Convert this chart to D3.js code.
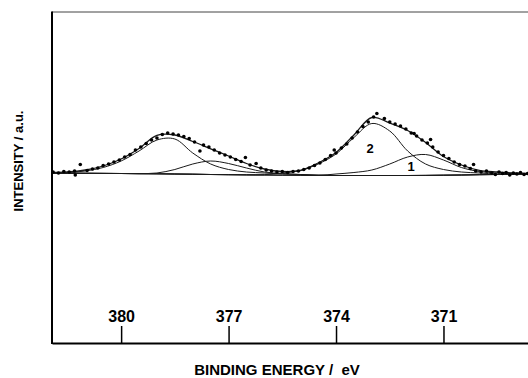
<!DOCTYPE html>
<html>
<head>
<meta charset="utf-8">
<script src="https://cdn.jsdelivr.net/npm/d3@7"></script>
<style>
  body { margin: 0; background: #fff; }
  svg { display: block; font-family: "Liberation Sans", Arial, sans-serif; }
</style>
</head>
<body>
<svg id="chart" width="528" height="378"></svg>
<script>
// binding energy grid used for the fitted curves (eV)
const grid = [382, 381.5, 381, 380.5, 380, 379.5, 379, 378.5, 378, 377.5, 377, 376.5, 376, 375.5,
  375, 374.5, 374, 373.5, 373, 372.5, 372, 371.5, 371, 370.5, 370, 369.5, 369, 368.5];

// fitted envelope
const envelope = [170.5, 171, 173, 177, 184, 194.5, 207.7, 208, 201.5, 194.2, 187, 179.5, 174, 171.5,
  172.5, 180, 190.5, 208, 225.5, 220, 212.5, 200.5, 186.5, 178, 172.7, 171, 170, 169.5];
// background
const background = [170, 169.8, 169.7, 169.6, 169.5, 169.3, 169.2, 169, 168.8, 168.5, 168.3, 168.1, 168, 167.8,
  167.7, 167.6, 167.5, 167.5, 167.5, 167.5, 167.5, 167.6, 167.8, 168, 168.3, 168.5, 168.8, 169];
// left doublet components
const compA = [170, 170.5, 172, 175.5, 182, 192, 203, 204, 190, 179, 173.5, 171, 170, 169,
  168.5, 167.8, 167.5, 167.5, 167.5, 167.5, 167.5, 167.6, 167.8, 168, 168.3, 168.5, 168.8, 169];
const compB = [170, 169.8, 169.7, 169.6, 169.5, 169.4, 170, 173.5, 179, 182, 179.5, 175, 171, 169.5,
  168.5, 167.8, 167.5, 167.5, 167.5, 167.5, 167.5, 167.6, 167.8, 168, 168.3, 168.5, 168.8, 169];
// right doublet components ("2" and "1")
const comp2 = [170, 169.8, 169.7, 169.6, 169.5, 169.3, 169.2, 169, 168.8, 168.5, 168.3, 168.2, 168.3, 170,
  172.5, 179, 189, 205.5, 219.5, 212, 192, 179, 173.5, 171, 170, 169, 168.8, 169];
const comp1 = [170, 169.8, 169.7, 169.6, 169.5, 169.3, 169.2, 169, 168.8, 168.5, 168.3, 168.1, 168, 167.8,
  167.7, 167.6, 169, 170.5, 173, 179, 186, 188.5, 183, 175.5, 171.5, 170, 169.5, 169];

// measured points
const pointBE = [381.9, 381.75, 381.6, 381.45, 381.3, 381.28, 381.14, 380.95, 380.8, 380.65, 380.5, 380.35,
  380.2, 380.05, 379.9, 379.75, 379.6, 379.45, 379.3, 379.15, 379.0, 378.85, 378.7, 378.55, 378.4, 378.25,
  378.1, 377.95, 377.8, 377.7, 377.55, 377.4, 377.25, 377.1, 376.95, 376.8, 376.65, 376.53, 376.4, 376.23,
  376.1, 375.95, 375.8, 375.65, 375.5, 375.35, 375.2, 375.05, 374.9, 374.75, 374.6, 374.45, 374.3, 374.15,
  374.05, 374.0, 373.85, 373.7, 373.55, 373.4, 373.25, 373.1, 372.95, 372.86, 372.65, 372.5, 372.35, 372.2,
  372.05, 371.9, 371.82, 371.75, 371.6, 371.45, 371.36, 371.3, 371.15, 371.0, 370.85, 370.7, 370.55, 370.4,
  370.25, 370.16, 370.1, 369.95, 369.8, 369.65, 369.55, 369.45, 369.35, 369.25, 369.15, 369.05, 368.95,
  368.85, 368.75, 368.65];
const pointI = [171, 170, 171.5, 171, 172, 168, 178.5, 172.5, 174, 175, 177.5, 179,
  181, 183, 186, 188.5, 193, 196, 199.5, 203, 205, 208.5, 210, 209, 208, 206.5,
  204.5, 201, 192, 198, 196, 193, 190, 188, 186, 183.5, 181.5, 185.5, 178, 179.5,
  175, 173, 172, 171, 171.5, 170.5, 171.5, 172, 173.5, 175, 177.5, 180, 183.5, 187.5,
  193, 190, 195, 199, 205, 211, 216.5, 221, 226, 229.5, 224.5, 221, 219, 217,
  214, 210, 209.5, 207, 203, 200, 203.5, 196, 191, 187.5, 184.5, 181, 178.5, 177,
  174.5, 178.5, 172, 171, 172, 170, 168.5, 171, 169.5, 170.5, 168, 170, 169,
  170.5, 168.5, 169.5];

const tickValues = [380, 377, 374, 371];
const peakLabels = [{ text: "2", be: 373.05, i: 193 }, { text: "1", be: 371.9, i: 175 }];

const plotL = 52, plotR = 528, plotT = 12, plotB = 343;

const svg = d3.select("#chart");

const x = d3.scaleLinear().domain([381.93, 368.64]).range([plotL, plotR]);
const y = d3.scaleLinear().domain([0, 331]).range([plotB, plotT]);

svg.append("clipPath").attr("id", "plot")
  .append("rect")
  .attr("x", plotL).attr("y", plotT)
  .attr("width", plotR - plotL).attr("height", plotB - plotT);

const line = d3.line()
  .x(d => x(d[0]))
  .y(d => y(d[1]))
  .curve(d3.curveCatmullRom);

const curves = [background, compA, compB, comp2, comp1, envelope];
const g = svg.append("g").attr("clip-path", "url(#plot)");

g.selectAll("path.curve")
  .data(curves)
  .join("path")
  .attr("class", "curve")
  .attr("fill", "none")
  .attr("stroke", "#1a1a1a")
  .attr("stroke-width", (d, i) => i === curves.length - 1 ? 1.3 : 1)
  .attr("d", d => line(grid.map((be, i) => [be, d[i]])));

g.selectAll("circle.pt")
  .data(pointBE.map((be, i) => [be, pointI[i]]))
  .join("circle")
  .attr("class", "pt")
  .attr("cx", d => x(d[0]))
  .attr("cy", d => y(d[1]))
  .attr("r", 1.8)
  .attr("fill", "#000");

// frame: top line
svg.append("line")
  .attr("x1", plotL).attr("x2", plotR)
  .attr("y1", plotT).attr("y2", plotT)
  .attr("stroke", "#444").attr("stroke-width", 1);

// left axis
svg.append("line")
  .attr("x1", plotL).attr("x2", plotL)
  .attr("y1", plotT - 0.5).attr("y2", plotB + 1)
  .attr("stroke", "#000").attr("stroke-width", 2);

// bottom axis, ticks pointing up into the plot
const xAxis = svg.append("g")
  .attr("transform", `translate(0,${plotB})`)
  .call(d3.axisTop(x).tickValues(tickValues).tickSize(17).tickSizeOuter(0).tickPadding(4));
xAxis.select(".domain").attr("stroke-width", 2);
xAxis.selectAll(".tick line").attr("stroke-width", 1.5);
xAxis.selectAll(".tick text")
  .attr("font-size", 16)
  .attr("font-weight", "bold")
  .attr("font-family", "Liberation Sans, Arial, sans-serif")
  .attr("fill", "#000");

// component labels
svg.selectAll("text.peak")
  .data(peakLabels)
  .join("text")
  .attr("class", "peak")
  .attr("x", d => x(d.be))
  .attr("y", d => y(d.i))
  .attr("text-anchor", "middle")
  .attr("dominant-baseline", "middle")
  .attr("font-size", 13)
  .attr("font-weight", "bold")
  .text(d => d.text);

// axis titles
svg.append("text")
  .attr("transform", "translate(23,161) rotate(-90)")
  .attr("text-anchor", "middle")
  .attr("font-size", 13)
  .attr("font-weight", "bold")
  .text("INTENSITY / a.u.");

svg.append("text")
  .attr("x", 277)
  .attr("y", 375)
  .attr("text-anchor", "middle")
  .attr("font-size", 15)
  .attr("font-weight", "bold")
  .style("white-space", "pre")
  .text("BINDING ENERGY /  eV");
</script>
</body>
</html>
